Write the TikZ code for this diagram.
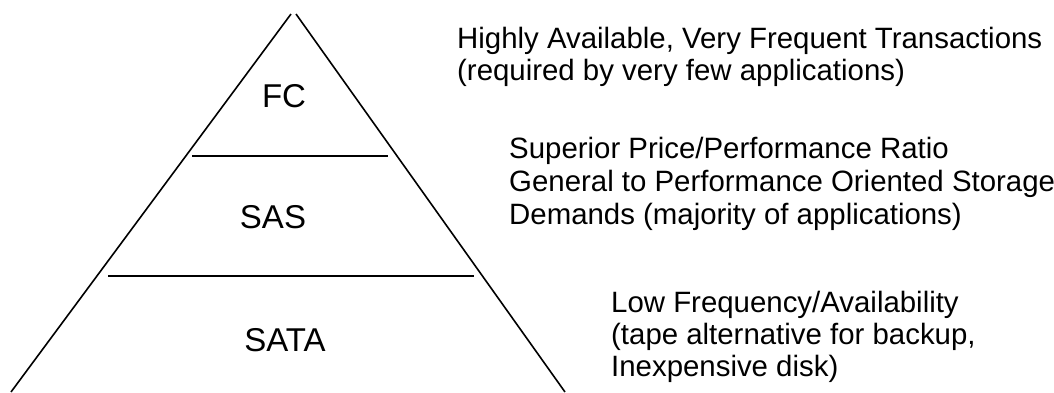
\documentclass[tikz,border=0pt]{standalone}
\usepackage{fontspec}
\setmainfont{Liberation Sans}
\begin{document}
\begin{tikzpicture}[x=1pt,y=-1pt,
  edge/.style={draw=black,line width=1.6pt,line cap=butt},
  tier/.style={inner sep=0pt,anchor=base,font=\fontsize{33}{36}\selectfont},
  note/.style={inner sep=0pt,anchor=base west,font=\fontsize{29.4}{32}\selectfont}]
\useasboundingbox (0,0) rectangle (1054,392);
% pyramid sides
\coordinate (al) at (291,14);
\coordinate (ar) at (296,14);
\coordinate (bl) at (11,392);
\coordinate (br) at (565,392);
\draw[edge] (al) -- (bl);
\draw[edge] (ar) -- (br);
% tier separators
\coordinate (s1l) at (192,156);
\coordinate (s1r) at (388,156);
\coordinate (s2l) at (108,276);
\coordinate (s2r) at (474,276);
\draw[edge,line width=2pt] (s1l) -- (s1r);
\draw[edge,line width=2pt] (s2l) -- (s2r);
% tier labels
\node[tier] (fc) at (284,107) {FC};
\node[tier] (sas) at (273,228) {SAS};
\node[tier] (sata) at (285,351) {SATA};
% descriptions
\node[note] (d1a) at (457,48) {Highly Available, Very Frequent Transactions};
\node[note] (d1b) at (457,80) {(required by very few applications)};
\node[note] (d2a) at (509,158) {Superior Price/Performance Ratio};
\node[note] (d2b) at (509,191) {General to Performance Oriented Storage};
\node[note] (d2c) at (509,224) {Demands (majority of applications)};
\node[note] (d3a) at (611,312) {Low Frequency/Availability};
\node[note] (d3b) at (611,344) {(tape alternative for backup,};
\node[note] (d3c) at (611,376) {Inexpensive disk)};
\end{tikzpicture}
\end{document}
